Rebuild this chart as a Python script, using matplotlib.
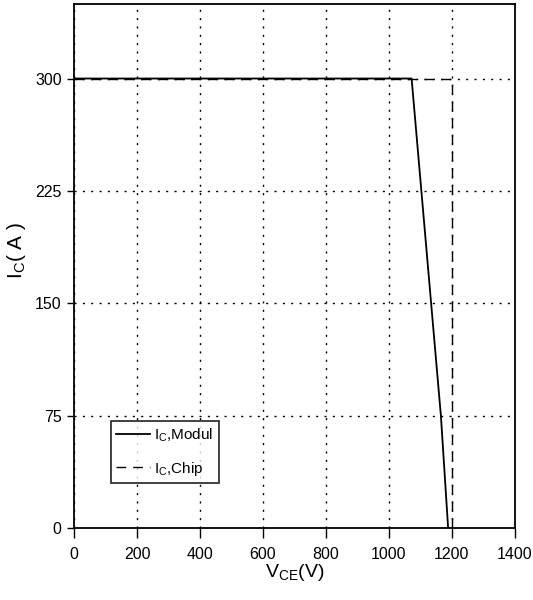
import numpy as np
import matplotlib.pyplot as plt

plt.rcParams['font.family'] = ['Liberation Sans', 'DejaVu Sans']
plt.rcParams['mathtext.fontset'] = 'custom'
plt.rcParams['mathtext.rm'] = 'Liberation Sans'

# RBSOA curves
v_modul = [0, 1072, 1165, 1188]   # V_CE [V]
i_modul = [300, 300, 75, 0]       # I_C [A]
v_chip = [0, 1200, 1200]
i_chip = [300, 300, 0]

xticks = [0, 200, 400, 600, 800, 1000, 1200, 1400]
yticks = [0, 75, 150, 225, 300]

fig = plt.figure(figsize=(5.33, 6.0), dpi=100)
ax = fig.add_axes([0.139, 0.12, 0.827, 0.874])

ax.plot(v_chip, i_chip, color='k', lw=1.0, ls=(0, (7, 5)), label=r'I$_\mathregular{C}$,Chip')
ax.plot(v_modul, i_modul, color='k', lw=1.3, label=r'I$_\mathregular{C}$,Modul')

ax.set_xlim(0, 1400)
ax.set_ylim(0, 350)
ax.set_xticks(xticks)
ax.set_yticks(yticks)
ax.grid(True, color='k', ls=(0, (1.5, 4.5)), lw=1.0)
ax.tick_params(axis='x', direction='out', length=7, width=1, labelsize=11.5, pad=7)
ax.tick_params(axis='y', direction='out', length=5, width=1, labelsize=11.5, pad=4)
for s in ax.spines.values():
    s.set_linewidth(1.3)

ax.set_xlabel(r'V$_\mathregular{CE}$(V)', fontsize=14, labelpad=0)
ax.set_ylabel(r'I$_\mathregular{C}$( A )', fontsize=15)
ax.yaxis.set_label_coords(-0.105, 0.53)

h, l = ax.get_legend_handles_labels()
leg = ax.legend(h[::-1], l[::-1], loc='lower left', bbox_to_anchor=(0.084, 0.086),
                borderaxespad=0, fontsize=11, frameon=True, fancybox=False, edgecolor='k',
                handlelength=2.2, handletextpad=0.25, borderpad=0.35, labelspacing=1.0)
leg.get_frame().set_linewidth(1.3)

fig.savefig('out.png', dpi=100)
